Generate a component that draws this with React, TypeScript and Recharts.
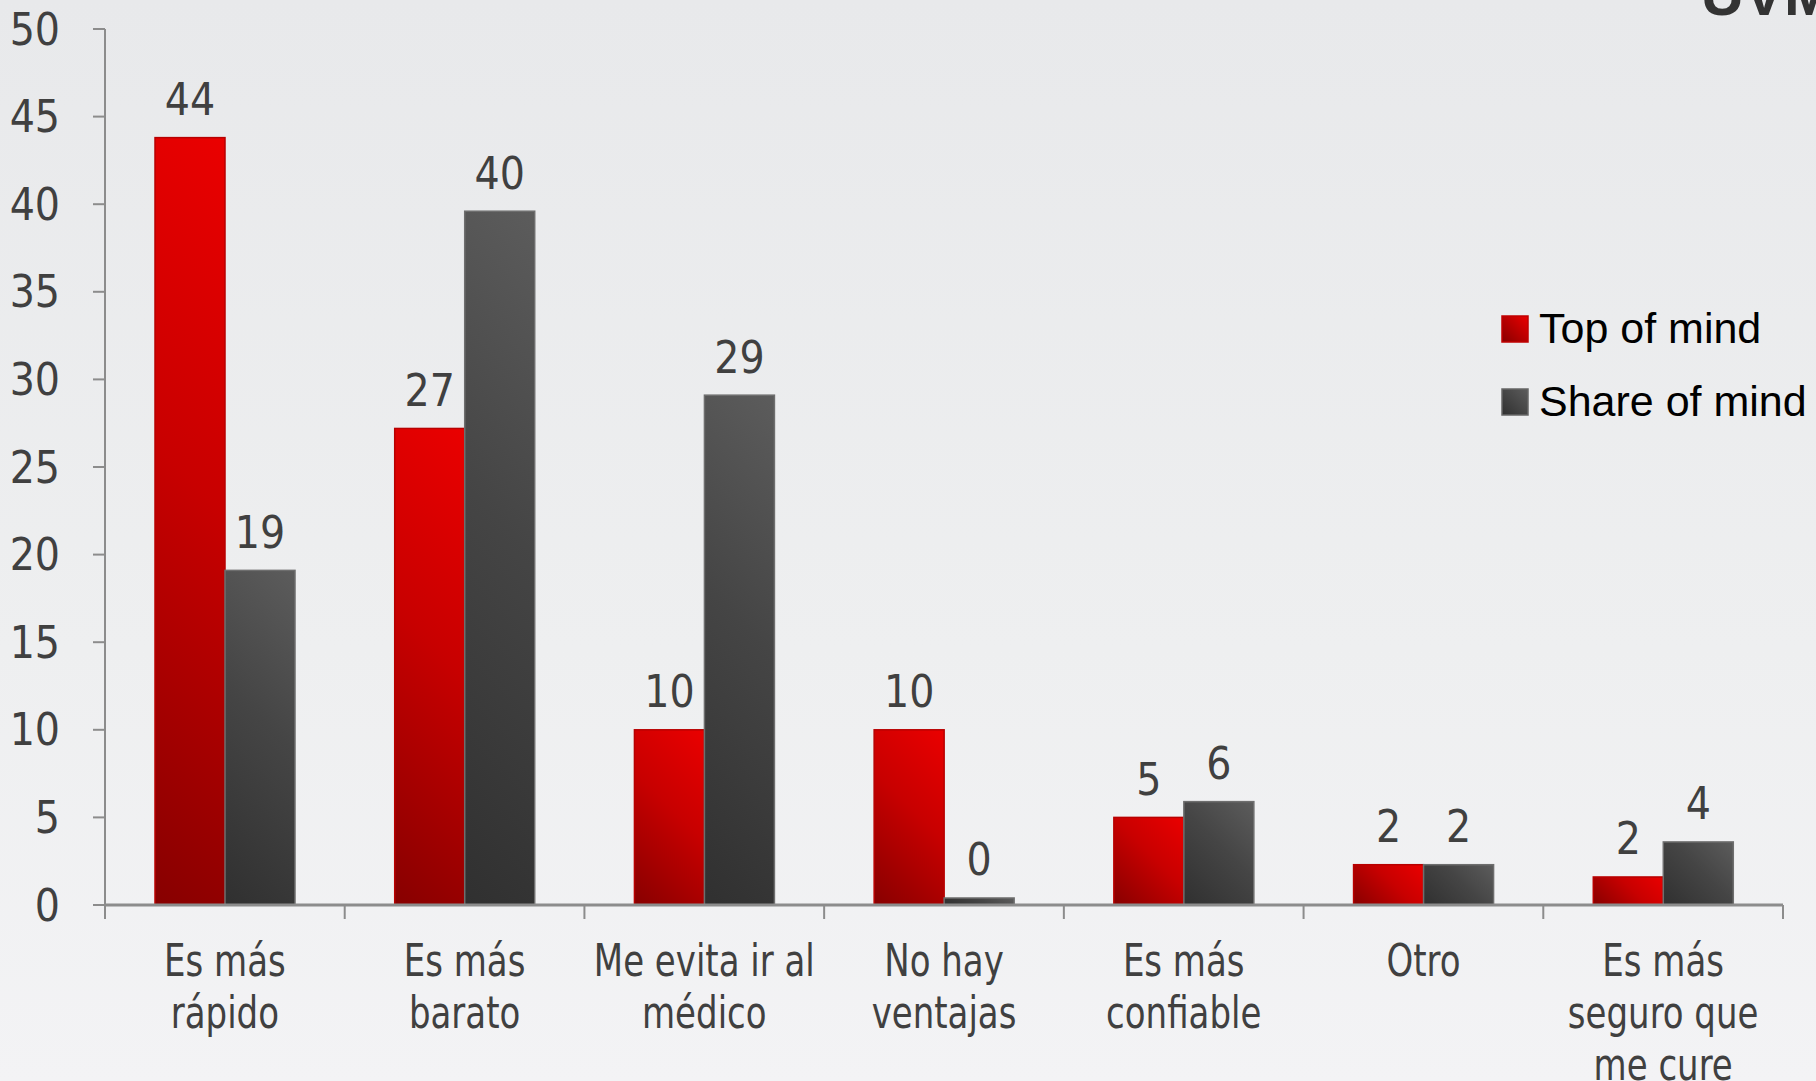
import { Bar, BarChart, LabelList, XAxis, YAxis } from "recharts";

const categories = [
  "Es más\nrápido",
  "Es más\nbarato",
  "Me evita ir al\nmédico",
  "No hay\nventajas",
  "Es más\nconfiable",
  "Otro",
  "Es más\nseguro que\nme cure",
];
const topOfMind = [43.8, 27.2, 10, 10, 5, 2.3, 1.6];
const shareOfMind = [19.1, 39.6, 29.1, 0.4, 5.9, 2.3, 3.6];
const seriesNames = ["Top of mind", "Share of mind"];
const yTicks = [0, 5, 10, 15, 20, 25, 30, 35, 40, 45, 50];

const data = categories.map((name, i) => ({
  name,
  top: topOfMind[i],
  share: shareOfMind[i],
}));

const W = 1816;
const H = 1081;
const margin = { top: 29, right: 33, left: 0, bottom: 0 };
const Y_AXIS_W = 105;
const X_AXIS_H = 176;
const PLOT_W = W - margin.right - Y_AXIS_W;
const FONT = "'DejaVu Sans Condensed', 'DejaVu Sans', sans-serif";
const AXIS_GREY = "#8c8c8c";
const TEXT = "#404040";

const RED = ["#870000", "#c80000", "#ea0000"];
const GREY = ["#303030", "#454545", "#5c5c5c"];

// gradient at a fixed 45 degree angle in page space, like the office chart
const GradBar = (colors: string[], edge: string) => (props: any) => {
  const { x, y, width, height, index } = props;
  if (!height || height <= 0) return null;
  const id = `g-${colors[0].slice(1)}-${index}`;
  const d = (width + height) / 2;
  return (
    <g>
      <defs>
        <linearGradient id={id} gradientUnits="userSpaceOnUse" x1={x} y1={y + height} x2={x + d} y2={y + height - d}>
          <stop offset="0%" stopColor={colors[0]} />
          <stop offset="55%" stopColor={colors[1]} />
          <stop offset="100%" stopColor={colors[2]} />
        </linearGradient>
      </defs>
      <rect x={x} y={y} width={width} height={height} fill={`url(#${id})`} stroke={edge} strokeWidth={1.5} />
    </g>
  );
};

const RedBar = GradBar(RED, "#b80000");
const GreyBar = GradBar(GREY, "#6e6e6e");

const CategoryTick = (props: any) => {
  const { x, y, payload, index } = props;
  const band = PLOT_W / categories.length;
  const lines = String(payload.value).split("\n");
  return (
    <g>
      <line x1={x - band / 2} x2={x - band / 2} y1={y} y2={y + 14} stroke={AXIS_GREY} strokeWidth={2} />
      {index === categories.length - 1 && (
        <line x1={x + band / 2} x2={x + band / 2} y1={y} y2={y + 14} stroke={AXIS_GREY} strokeWidth={2} />
      )}
      {lines.map((l, i) => (
        <text
          key={i}
          transform={`translate(${x},${y + 55 + i * 52}) scale(0.84,1)`}
          textAnchor="middle"
          dominantBaseline="central"
          fill={TEXT}
          fontSize={45}
          fontFamily={FONT}
        >
          {l}
        </text>
      ))}
    </g>
  );
};

const ValueLabel = (props: any) => {
  const { x, y, width, value } = props;
  return (
    <text
      x={x + width / 2}
      y={y - 38}
      textAnchor="middle"
      dominantBaseline="central"
      fill={TEXT}
      fontSize={44}
      fontFamily={FONT}
    >
      {Math.round(value)}
    </text>
  );
};

const Swatch = ({ colors, edge }: { colors: string[]; edge: string }) => (
  <svg width={28} height={28} style={{ marginRight: 10 }}>
    <defs>
      <linearGradient id={`lg-${colors[0].slice(1)}`} x1="0" y1="1" x2="1" y2="0">
        <stop offset="0%" stopColor={colors[0]} />
        <stop offset="100%" stopColor={colors[2]} />
      </linearGradient>
    </defs>
    <rect x={1} y={1} width={26} height={26} fill={`url(#lg-${colors[0].slice(1)})`} stroke={edge} strokeWidth={1.5} />
  </svg>
);

export default function App() {
  return (
    <div
      style={{
        position: "absolute",
        left: 0,
        top: 0,
        width: W,
        height: H,
        overflow: "hidden",
        background: "linear-gradient(to bottom, #e8e9eb 0%, #eeeff0 60%, #f3f3f5 100%)",
      }}
    >
      <div
        style={{
          position: "absolute",
          right: -18,
          top: -40,
          fontFamily: "'Liberation Sans', sans-serif",
          fontWeight: "bold",
          fontSize: 60,
          color: "#333",
        }}
      >
        UVM
      </div>
      <BarChart width={W} height={H} data={data} margin={margin} barGap={0} barSize={70}>
        <XAxis
          dataKey="name"
          interval={0}
          height={X_AXIS_H}
          tickLine={false}
          tickSize={0}
          tickMargin={0}
          axisLine={{ stroke: AXIS_GREY, strokeWidth: 3 }}
          tick={<CategoryTick />}
        />
        <YAxis
          width={Y_AXIS_W}
          domain={[0, 50]}
          ticks={yTicks}
          interval={0}
          tickSize={12}
          tickMargin={33}
          axisLine={{ stroke: AXIS_GREY, strokeWidth: 2 }}
          tickLine={{ stroke: AXIS_GREY, strokeWidth: 2 }}
          tick={{ fill: TEXT, fontSize: 44, fontFamily: FONT }}
        />
        <Bar dataKey="top" name={seriesNames[0]} shape={RedBar} isAnimationActive={false}>
          <LabelList dataKey="top" content={<ValueLabel />} />
        </Bar>
        <Bar dataKey="share" name={seriesNames[1]} shape={GreyBar} isAnimationActive={false}>
          <LabelList dataKey="share" content={<ValueLabel />} />
        </Bar>
      </BarChart>
      <div style={{ position: "absolute", left: 1501, top: 292 }}>
        {seriesNames.map((n, i) => (
          <div key={n} style={{ display: "flex", alignItems: "center", height: 73 }}>
            <Swatch colors={i === 0 ? RED : GREY} edge={i === 0 ? "#c00000" : "#666"} />
            <span style={{ fontFamily: "'Liberation Sans', sans-serif", fontSize: 43, color: "#000", whiteSpace: "nowrap" }}>
              {n}
            </span>
          </div>
        ))}
      </div>
    </div>
  );
}
